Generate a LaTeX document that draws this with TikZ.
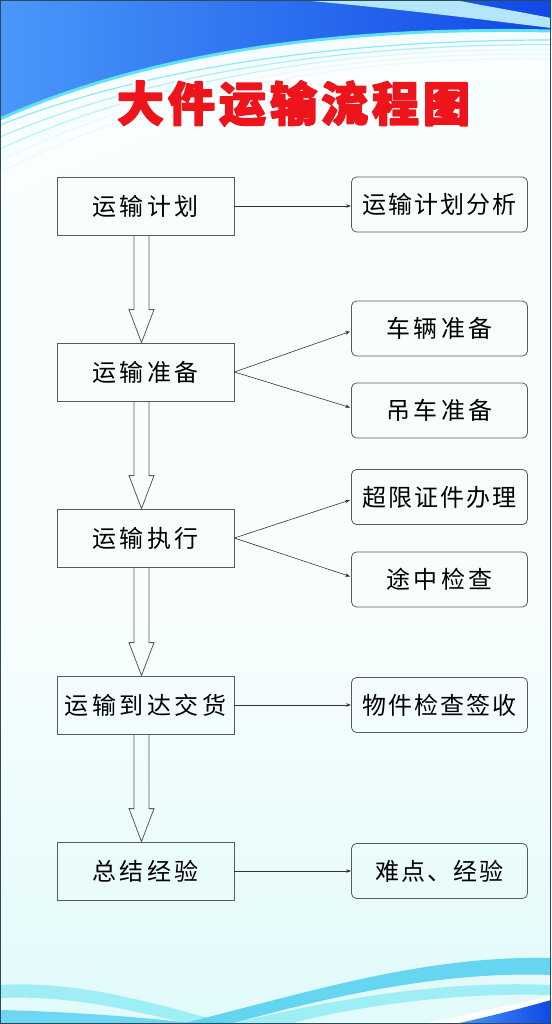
\documentclass[tikz,border=0pt]{standalone}
\usepackage{fontspec}
\usetikzlibrary{arrows.meta,calc}
\newfontfamily\cjk{Noto Sans CJK SC}
\makeatletter
\newcommand\spx[2]{\def\sp@first{1}\@tfor\sp@c:=#2\do{\ifnum\sp@first=1 \def\sp@first{0}\else\kern#1\fi\sp@c}}
\makeatother
\definecolor{bgtop}{HTML}{CFF3F7}
\definecolor{bgmid}{HTML}{F8FEFE}
\definecolor{bgbot}{HTML}{CCF6F6}
\definecolor{blueA}{HTML}{4A98FA}
\definecolor{blueB}{HTML}{1048E6}
\definecolor{swcyan}{HTML}{5FE3F2}
\definecolor{wave1}{HTML}{4FCFF0}
\definecolor{wave2}{HTML}{8EEBF6}
\definecolor{boxline}{HTML}{5A5A5A}
\definecolor{arrline}{HTML}{333333}
\definecolor{titlered}{HTML}{EE141C}
\definecolor{frame}{HTML}{2E4A58}
\pgfdeclareverticalshading{bgshade}{100bp}{color(0bp)=(bgbot); color(20bp)=(bgbot!70!white); color(45bp)=(bgmid); color(70bp)=(bgmid); color(88bp)=(bgtop!50!white); color(100bp)=(bgtop)}
\tikzset{
  leftbox/.style={draw=boxline, line width=0.8pt, minimum width=177pt, minimum height=58pt, inner sep=0pt, font=\cjk\fontsize{24}{26}\selectfont},
  rightbox/.style={draw=boxline, line width=0.8pt, rounded corners=5pt, minimum width=176pt, minimum height=55pt, inner sep=0pt, font=\cjk\fontsize{24}{26}\selectfont},
  conn/.style={draw=arrline, line width=0.6pt, -{Stealth[length=5pt,width=3.5pt]}},
  hollow/.style={draw=boxline, line width=0.8pt, line join=miter},
  titlefont/.style={font=\cjk\bfseries\fontsize{47}{50}\selectfont},
}
\begin{document}
\begin{tikzpicture}[x=1pt,y=-1pt]
\useasboundingbox (0,0) rectangle (551,1024);
% background
\shade[shading=bgshade] (0,0) rectangle (551,1024);
% top swoosh lines
\foreach \d/\o in {0/0.7,12/0.5,24/0.4,36/0.3,48/0.25}{
  \draw[swcyan, line width=1.2pt, opacity=\o] (0,{125+\d}) .. controls (140,{70+\d*0.6}) and (330,{40+\d*0.3}) .. (551,{40+\d*0.4});
}
\fill[white, opacity=0.5] (0,160) .. controls (150,80) and (330,50) .. (551,45) -- (551,80) .. controls (350,80) and (180,110) .. (0,200) -- cycle;
% blue top
\shade[left color=blueA, right color=blueB] (0,0) -- (551,0) -- (551,30) .. controls (330,25) and (140,55) .. (0,118) -- cycle;
\draw[swcyan, line width=3pt] (551,31) .. controls (330,26) and (140,56) .. (0,119);
\fill[white!70!cyan] (300,0) .. controls (390,8) and (470,18) .. (551,28) -- (551,18) .. controls (510,10) and (480,5) .. (455,0) -- cycle;
% bottom waves
\fill[wave2, opacity=0.8] (0,985) .. controls (80,980) and (160,1005) .. (230,1024) -- (190,1024) .. controls (130,1010) and (70,995) .. (0,998) -- cycle;
\fill[wave1, opacity=0.8] (0,1010) .. controls (80,1012) and (150,1018) .. (200,1024) -- (0,1024) -- cycle;
\fill[wave1, opacity=0.85] (180,1024) .. controls (300,995) and (420,955) .. (551,958) -- (551,975) .. controls (430,970) and (300,1005) .. (230,1024) -- cycle;
\fill[wave2, opacity=0.8] (230,1024) .. controls (330,1000) and (440,980) .. (551,985) -- (551,995) .. controls (440,992) and (340,1010) .. (290,1024) -- cycle;
\fill[white] (420,1024) .. controls (480,1012) and (520,1003) .. (551,996) -- (551,1024) -- cycle;
\shade[left color=blueA, right color=blueB] (455,1024) .. controls (500,1014) and (530,1006) .. (551,1000) -- (551,1024) -- cycle;
% title: white outline (stroke only) under red, slightly emboldened, text
\node[white, titlefont] (titleglow) at (293.5,103.5)
  {\special{pdf:literal direct 1 Tr 7 w 1 j 1 1 1 RG}\spx{4pt}{大件运输流程图}\special{pdf:literal direct 0 Tr}};
\node[titlered, titlefont] (title) at (293.5,103.5)
  {\special{pdf:literal direct 2 Tr 1.6 w 1 j}\spx{4pt}{大件运输流程图}\special{pdf:literal direct 0 Tr}};
% left boxes
\node[leftbox] (b1) at (145.5,206) {\spx{3.5pt}{运输计划}};
\node[leftbox] (b2) at (145.5,372) {\spx{3.5pt}{运输准备}};
\node[leftbox] (b3) at (145.5,538) {\spx{3.5pt}{运输执行}};
\node[leftbox] (b4) at (145.5,705) {\spx{3.5pt}{运输到达交货}};
\node[leftbox] (b5) at (145.5,871) {\spx{3.5pt}{总结经验}};
% right boxes
\node[rightbox] (r1) at (439.5,204.5) {\spx{2pt}{运输计划分析}};
\node[rightbox] (r2) at (439.5,328.5) {\spx{3.5pt}{车辆准备}};
\node[rightbox] (r3) at (439.5,410.5) {\spx{3.5pt}{吊车准备}};
\node[rightbox] (r4) at (439.5,497) {\spx{2pt}{超限证件办理}};
\node[rightbox] (r5) at (439.5,579.5) {\spx{3.5pt}{途中检查}};
\node[rightbox] (r6) at (439.5,705) {\spx{2pt}{物件检查签收}};
\node[rightbox] (r7) at (439.5,871) {\spx{2pt}{难点、经验}};
% connectors
\draw[conn] (b1.east) -- (b1.east -| r1.west);
\draw[conn] (b2.east) -- ($(r2.west)+(-1,3)$);
\draw[conn] (b2.east) -- ($(r3.west)+(-1,-3)$);
\draw[conn] (b3.east) -- ($(r4.west)+(-1,3)$);
\draw[conn] (b3.east) -- ($(r5.west)+(-1,-3)$);
\draw[conn] (b4.east) -- (r6.west);
\draw[conn] (b5.east) -- (r7.west);
% hollow arrows
\foreach \a/\b in {b1/b2,b2/b3,b3/b4,b4/b5}{
  \draw[hollow] let \p1=(\a.south), \p2=(\b.north) in
    (\x1-11.5pt,\y1) -- (\x1-11.5pt,\y2+33pt) -- (\x1-16.5pt,\y2+33pt) -- (\x1-4pt,\y2)
    -- (\x1+8.5pt,\y2+33pt) -- (\x1+3.5pt,\y2+33pt) -- (\x1+3.5pt,\y1);
}
% frame
\draw[frame, line width=1.4pt] (0.7,0.7) rectangle (550.3,1023.3);
\end{tikzpicture}
\end{document}
